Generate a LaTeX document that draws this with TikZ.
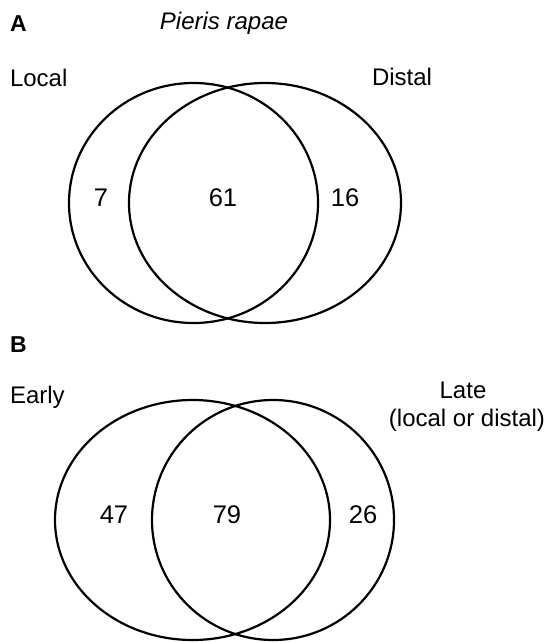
\documentclass[tikz,border=0pt]{standalone}
\usepackage{fontspec}
\setmainfont{Liberation Sans}
\begin{document}
\begin{tikzpicture}[x=1pt,y=-1pt,
  lbl/.style={inner sep=0pt,outer sep=0pt,font=\fontsize{24}{28}\selectfont},
  num/.style={inner sep=0pt,outer sep=0pt,font=\fontsize{25.5}{30}\selectfont},
  panel/.style={inner sep=0pt,outer sep=0pt,font=\fontsize{23}{27}\selectfont\bfseries},
  vennline/.style={line width=2.2pt,black}]
\useasboundingbox (0,0) rectangle (546,642);
% Panel A
\node[panel,anchor=base west] (pA) at (10,32) {A};
\node[lbl,anchor=base] (title) at (224,30) {\itshape Pieris rapae};
\node[lbl,anchor=base west] (local) at (10,86) {Local};
\node[lbl,anchor=base west] (distal) at (372,85) {Distal};
\draw[vennline] (193.5,203) ellipse [x radius=124.5, y radius=120];
\draw[vennline] (265,203) ellipse [x radius=136, y radius=120];
\node[num,anchor=base] (a1) at (101,206) {7};
\node[num,anchor=base] (a2) at (223,206) {61};
\node[num,anchor=base] (a3) at (345,206) {16};
% Panel B
\node[panel,anchor=base west] (pB) at (10,352) {B};
\node[lbl,anchor=base west] (early) at (10,403) {Early};
\node[lbl,anchor=base] (late) at (463,398) {Late};
\node[lbl,anchor=base east] (late2) at (545,426) {(local or distal)};
\draw[vennline] (192.5,520) ellipse [x radius=137.5, y radius=120];
\draw[vennline] (273,520) ellipse [x radius=121, y radius=120];
\node[num,anchor=base] (b1) at (114,523) {47};
\node[num,anchor=base] (b2) at (227,523) {79};
\node[num,anchor=base] (b3) at (363,523) {26};
\end{tikzpicture}
\end{document}
